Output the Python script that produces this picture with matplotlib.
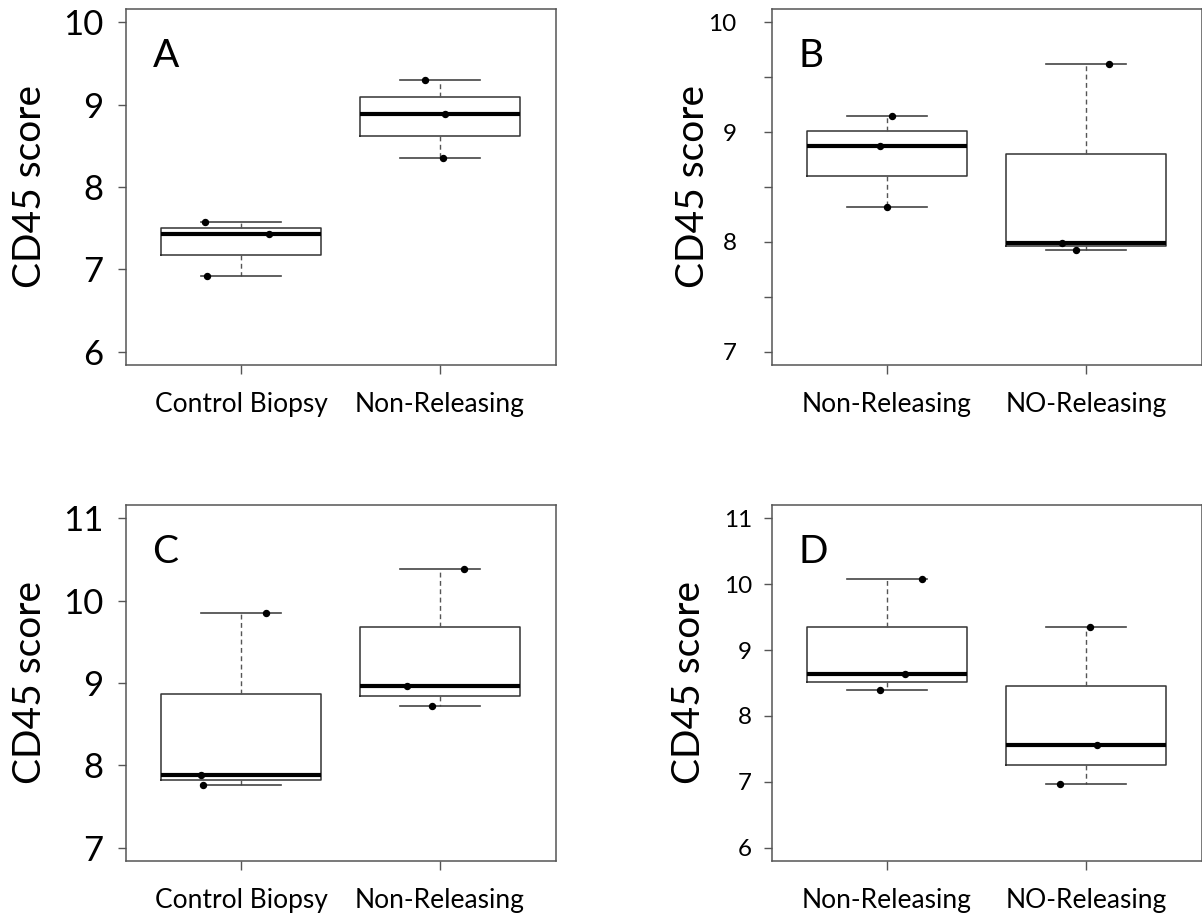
import matplotlib.pyplot as plt

plt.rcParams['font.family'] = ['Lato', 'DejaVu Sans']

# values (three samples per group)
a_labels = ['Control Biopsy', 'Non-Releasing']
a_control = [7.575, 7.433, 6.926]
a_nonrel = [9.295, 8.882, 8.348]

b_labels = ['Non-Releasing', 'NO-Releasing']
b_nonrel = [9.143, 8.871, 8.321]
b_norel = [9.617, 7.991, 7.930]

c_labels = ['Control Biopsy', 'Non-Releasing']
c_control = [9.854, 7.878, 7.765]
c_nonrel = [10.38, 8.967, 8.716]

d_labels = ['Non-Releasing', 'NO-Releasing']
d_nonrel = [10.07, 8.643, 8.400]
d_norel = [9.347, 7.557, 6.970]

# horizontal jitter of the dots
a_jit = [[-0.18, 0.14, -0.17], [-0.076, 0.024, 0.014]]
b_jit = [[0.024, -0.034, 0.0], [0.114, -0.12, -0.048]]
c_jit = [[0.126, -0.2, -0.19], [0.12, -0.167, -0.042]]
d_jit = [[0.174, 0.093, -0.033], [0.021, 0.056, -0.131]]


def panel(ax, groups, labels, jit, letter, yticks, ylabels, ylim,
          tick_size, tick_pad, ylab_x):
    ax.boxplot(groups, positions=[1, 2], widths=0.8, whis=(0, 100),
               capwidths=0.4, showfliers=False,
               boxprops=dict(color='#333333', linewidth=1.1),
               medianprops=dict(color='black', linewidth=3.0),
               whiskerprops=dict(color='#555555', linewidth=1.0, linestyle=(0, (3.5, 2.5))),
               capprops=dict(color='#444444', linewidth=1.2))
    for i, vals in enumerate(groups):
        xs = [i + 1 + j for j in jit[i]]
        ax.plot(xs, vals, 'o', color='black', markersize=4.3, zorder=5)

    ax.set_xlim(0.42, 2.58)
    ax.set_ylim(*ylim)
    ax.set_xticks([1, 2])
    ax.set_xticklabels(labels, fontsize=19)
    ax.set_yticks(yticks)
    ax.set_yticklabels(ylabels, fontsize=tick_size)
    ax.tick_params(axis='x', length=6.5, width=1, color='#555555', pad=13)
    ax.tick_params(axis='y', length=6, width=1, color='#555555', pad=tick_pad)
    for s in ax.spines.values():
        s.set_color('#555555')
        s.set_linewidth(1.1)

    ax.set_ylabel('CD45 score', fontsize=28, va='center')
    ax.yaxis.set_label_coords(ylab_x, 0.5)
    ax.text(0.063, 0.838, letter, transform=ax.transAxes, fontsize=28,
            va='baseline', ha='left')


def job():
    fig = plt.figure(figsize=(12.02, 9.17), dpi=100)
    w = 430 / 1202
    h = 356 / 917
    ax_a = fig.add_axes([125.5 / 1202, 552 / 917, w, h])
    ax_b = fig.add_axes([771.5 / 1202, 552 / 917, w, h])
    ax_c = fig.add_axes([125.5 / 1202, 56 / 917, w, h])
    ax_d = fig.add_axes([771.5 / 1202, 56 / 917, w, h])

    panel(ax_a, [a_control, a_nonrel], a_labels, a_jit, 'A',
          [6, 7, 8, 9, 10], ['6', '7', '8', '9', '10'], (5.84, 10.16),
          25, 10, -0.222)
    panel(ax_b, [b_nonrel, b_norel], b_labels, b_jit, 'B',
          [7, 7.5, 8, 8.5, 9, 9.5, 10], ['7', '', '8', '', '9', '', '10'],
          (6.88, 10.12), 17.5, 19, -0.183)
    panel(ax_c, [c_control, c_nonrel], c_labels, c_jit, 'C',
          [7, 8, 9, 10, 11], ['7', '8', '9', '10', '11'], (6.84, 11.16),
          25, 10, -0.222)
    panel(ax_d, [d_nonrel, d_norel], d_labels, d_jit, 'D',
          [6, 7, 8, 9, 10, 11], ['6', '7', '8', '9', '10', '11'], (5.8, 11.2),
          17.5, 8, -0.192)

    fig.savefig('out.png', dpi=100)


if __name__ == '__main__':
    job()
